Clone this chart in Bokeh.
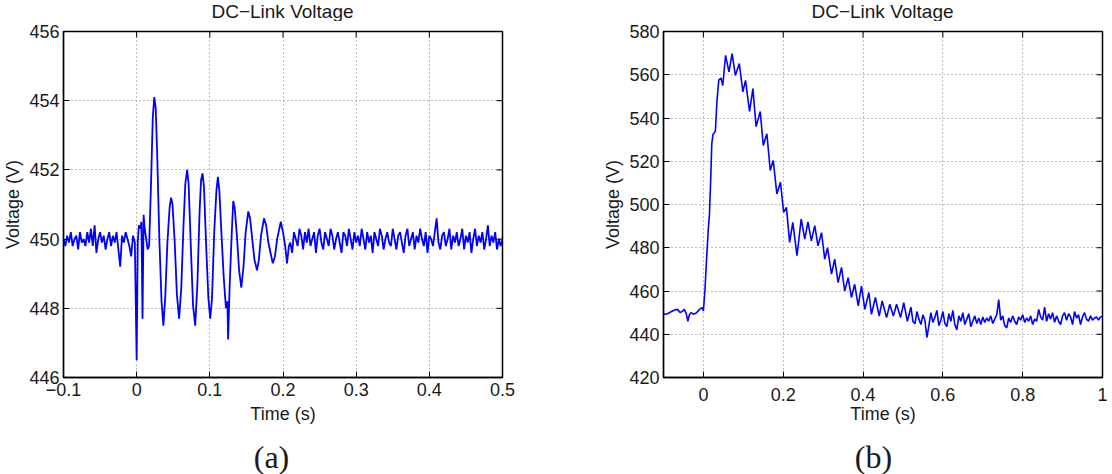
import numpy as np
from bokeh.plotting import figure
from bokeh.models import Range1d, FixedTicker, Label
from bokeh.layouts import row, column
from bokeh.embed import file_html
from bokeh.resources import INLINE

TITLE = "DC\u2212Link Voltage"
XLABEL = "Time (s)"
YLABEL = "Voltage (V)"
CAPTIONS = ["(a)", "(b)"]

# ---------------- panel (a) ----------------
a_xrange = (-0.1, 0.5)
a_yrange = (446, 456)
a_xticks = [-0.1, 0, 0.1, 0.2, 0.3, 0.4, 0.5]
a_xtick_labels = ["\u22120.1", "0", "0.1", "0.2", "0.3", "0.4", "0.5"]
a_yticks = [446, 448, 450, 452, 454, 456]
a_ytick_labels = ["446", "448", "450", "452", "454", "456"]

# before the event: samples every 2.5 ms from -0.1 s
a_pre_start, a_pre_step = -0.1, 0.0025
a_pre_v = [450.0, 449.8, 450.1, 449.9, 450.2, 449.8, 450.0, 450.1, 449.7, 450.2,
           449.9, 450.0, 449.8, 450.2, 449.9, 450.3, 449.8, 450.4, 449.6, 450.0,
           450.2, 449.9, 450.1, 449.7, 450.0, 450.2, 449.8, 450.1, 449.9, 450.2,
           449.7, 449.2, 450.1, 449.9, 450.2, 450.0, 449.8, 449.5, 450.1, 449.9]

# transient
a_tr_t = [0.0, 0.0015, 0.003, 0.005, 0.0065, 0.008, 0.0095, 0.011, 0.013, 0.015,
          0.017, 0.0195, 0.022, 0.024, 0.026, 0.028, 0.031, 0.034, 0.0365, 0.039,
          0.042, 0.045, 0.047, 0.049, 0.052, 0.055, 0.058, 0.061, 0.064, 0.0665,
          0.069, 0.071, 0.074, 0.077, 0.080, 0.083, 0.086, 0.088, 0.090, 0.092,
          0.095, 0.098, 0.1005, 0.103, 0.106, 0.109, 0.111, 0.113, 0.116, 0.119,
          0.122, 0.124, 0.125, 0.127, 0.130, 0.132, 0.134, 0.137, 0.140, 0.143,
          0.146, 0.149, 0.1525, 0.155, 0.158, 0.161, 0.1645, 0.167, 0.170, 0.174,
          0.177, 0.180, 0.183, 0.186, 0.189, 0.192, 0.197, 0.200, 0.203, 0.2055,
          0.208]
a_tr_v = [446.5, 449.9, 450.4, 450.3, 450.5, 447.7, 450.7, 450.3, 450.0, 449.7,
          449.8, 451.5, 453.5, 454.1, 453.8, 452.5, 450.0, 448.2, 447.5, 448.3,
          449.9, 450.9, 451.2, 451.0, 449.9, 448.4, 447.7, 448.6, 450.4, 451.6,
          452.0, 451.6, 449.8, 448.1, 447.5, 448.7, 450.8, 451.7, 451.9, 451.5,
          449.8, 448.3, 447.7, 448.3, 450.2, 451.4, 451.8, 451.4, 450.1, 448.9,
          448.0, 448.2, 447.1, 448.6, 450.2, 451.1, 450.9, 450.1, 449.1, 448.6,
          449.2, 450.2, 450.8, 450.6, 450.0, 449.4, 449.1, 449.4, 450.1, 450.6,
          450.4, 449.9, 449.6, 449.3, 449.5, 450.0, 450.5, 450.2, 449.8, 449.3,
          449.8]

# after the event: samples every 2.5 ms from 0.21 s
a_post_start, a_post_step = 0.21, 0.0025
a_post_v = [449.9, 449.6, 450.2, 450.0, 449.8, 450.3, 450.1, 449.7, 450.2, 449.9,
            450.3, 449.8, 450.0, 450.2, 449.6, 450.1, 450.3, 449.9, 449.7, 450.2,
            450.0, 449.8, 450.3, 450.1, 449.7, 450.0, 450.2, 449.9, 449.6, 450.2,
            450.1, 449.8, 450.3, 450.0, 449.7, 450.2, 449.9, 450.1, 449.8, 450.3,
            450.0, 449.7, 450.2, 449.9, 450.1, 449.6, 450.2, 450.0, 449.8, 450.3,
            450.1, 449.7, 450.0, 450.2, 449.9, 449.8, 450.3, 450.0, 449.7, 450.1,
            450.2, 449.9, 449.6, 450.1, 450.3, 449.8, 450.0, 450.2, 449.7, 450.1,
            449.9, 450.3, 450.0, 449.8, 450.2, 449.6, 450.1, 450.0, 449.8, 450.2,
            450.6, 449.9, 449.7, 450.1, 450.2, 449.8, 450.0, 450.3, 449.7, 450.1,
            449.9, 450.2, 449.8, 450.0, 450.3, 449.7, 450.1, 449.9, 450.2, 449.6,
            450.0, 450.3, 449.8, 450.1, 449.9, 450.2, 449.7, 450.0, 450.4, 449.8,
            450.1, 449.9, 450.2, 449.7, 450.0, 449.8, 450.0]

# ---------------- panel (b) ----------------
b_xrange = (-0.1, 1.0)
b_yrange = (420, 580)
b_xticks = [0, 0.2, 0.4, 0.6, 0.8, 1]
b_xtick_labels = ["0", "0.2", "0.4", "0.6", "0.8", "1"]
b_yticks = [420, 440, 460, 480, 500, 520, 540, 560, 580]
b_ytick_labels = ["420", "440", "460", "480", "500", "520", "540", "560", "580"]

b_pre_t = [-0.1, -0.09, -0.08, -0.072, -0.065, -0.058, -0.053, -0.048, -0.043, -0.039,
           -0.035, -0.031, -0.025, -0.018, -0.013, -0.008, -0.003, 0.0]
b_pre_v = [449.2, 449.5, 450.5, 451.2, 451.5, 450.0, 450.6, 451.5, 449.5, 446.0,
           449.0, 450.0, 449.3, 449.8, 450.8, 451.8, 452.3, 450.8]

b_rise_t = [0.004, 0.008, 0.012, 0.015, 0.018, 0.021, 0.024, 0.027, 0.030, 0.034,
            0.0385, 0.044, 0.0485]
b_rise_v = [460.8, 475.0, 488.0, 495.0, 510.0, 528.0, 532.5, 533.0, 534.0, 548.0,
            557.5, 558.5, 555.0]

b_osc_t = [0.0555, 0.064, 0.072, 0.080, 0.090, 0.0988, 0.1055, 0.1156, 0.124, 0.132,
           0.1424, 0.150, 0.159, 0.1675, 0.175, 0.184, 0.193, 0.201, 0.208, 0.216,
           0.224, 0.2345, 0.245, 0.254, 0.262, 0.2705, 0.279, 0.287, 0.296, 0.304,
           0.311, 0.321, 0.329, 0.3375, 0.346, 0.354, 0.3626, 0.371, 0.379, 0.388,
           0.396, 0.4045, 0.4146, 0.421, 0.431, 0.4405, 0.448, 0.459, 0.467, 0.476,
           0.484, 0.494, 0.502, 0.511]
b_osc_v = [569.0, 561.3, 569.8, 559.7, 565.2, 552.1, 557.4, 543.0, 553.6, 536.0,
           543.0, 527.3, 532.7, 515.7, 520.3, 504.9, 510.3, 496.4, 498.7, 482.5,
           491.7, 476.3, 493.3, 484.0, 492.0, 483.2, 490.2, 480.9, 487.0, 474.7,
           480.0, 467.8, 474.7, 463.9, 470.9, 460.0, 466.2, 457.0, 463.1, 453.1,
           462.3, 451.5, 459.3, 449.2, 457.0, 448.4, 455.4, 447.7, 453.9, 448.4,
           453.9, 447.7, 454.6, 446.0]

# steady state: samples every 5 ms from 0.52 s
b_tail_start, b_tail_step = 0.52, 0.005
b_tail_v = [452.5, 446.0, 444.8, 450.5, 447.0, 444.5, 449.0, 446.5, 438.5, 444.0,
            450.0, 445.5, 447.8, 451.0, 444.0, 446.5, 450.5, 445.0, 443.5, 449.5,
            446.0, 451.0, 444.5, 442.0, 448.5, 446.0, 450.0, 444.5, 447.0, 449.5,
            443.5, 446.0, 448.5, 445.0, 447.5, 444.5, 448.0, 445.5, 447.5, 446.0,
            448.5, 445.0, 447.0, 449.0, 456.0, 446.5, 448.5, 444.0, 443.0, 447.5,
            445.5, 448.5, 446.0, 444.5, 448.0, 446.5, 449.0, 445.5, 447.5, 446.0,
            448.5, 444.5, 447.0, 446.0, 451.5, 448.0, 446.5, 452.5, 446.0, 449.5,
            447.0, 450.0, 445.5, 448.5, 446.0, 444.5, 448.5, 450.0, 446.5, 449.5,
            448.0, 444.5, 450.5, 447.5, 449.0, 444.5, 448.0, 450.0, 447.0, 446.0,
            448.5, 446.5, 447.5, 448.0, 446.5, 448.0, 448.2]


def sampled(start, step, values):
    return list(np.round(start + step * np.arange(len(values)), 6))


a_t = sampled(a_pre_start, a_pre_step, a_pre_v) + a_tr_t + sampled(a_post_start, a_post_step, a_post_v)
a_v = a_pre_v + a_tr_v + a_post_v
b_t = b_pre_t + b_rise_t + b_osc_t + sampled(b_tail_start, b_tail_step, b_tail_v)
b_v = b_pre_v + b_rise_v + b_osc_v + b_tail_v

FONT = "Liberation Sans"
TXT = "#1a1a1a"
TICK_LEN = 6
PANEL_W = 556
TITLE_H = 21
CAPTION_H = 40
MAIN_H = 474 - TITLE_H - CAPTION_H
MAIN_TOP = 31 - TITLE_H
FRAME_H = 346


def style_axis(ax, ticks, labels):
    ax.ticker = FixedTicker(ticks=ticks)
    ax.major_tick_in = TICK_LEN
    ax.major_tick_out = 0
    ax.minor_tick_line_color = None
    ax.major_tick_line_color = "black"
    ax.axis_line_color = "black"
    ax.axis_line_width = 1.3
    ax.major_label_overrides = dict(zip(ticks, labels))
    ax.major_label_text_font = FONT
    ax.major_label_text_font_size = "18px"
    ax.major_label_text_color = TXT
    ax.axis_label_text_font = FONT
    ax.axis_label_text_font_size = "18px"
    ax.axis_label_text_font_style = "normal"
    ax.axis_label_text_color = TXT


def text_strip(height, text, cx, cy, font, size):
    """A bare strip (no axes) whose data units are pixels, holding one centred text."""
    s = figure(width=PANEL_W, height=height, output_backend="svg", toolbar_location=None,
               x_range=Range1d(0, PANEL_W), y_range=Range1d(0, height),
               x_axis_location=None, y_axis_location=None, min_border=0)
    s.grid.visible = False
    s.outline_line_color = None
    s.background_fill_color = "white"
    s.border_fill_color = "white"
    s.add_layout(Label(x=cx, y=cy, text=text, text_align="center", text_baseline="middle",
                       text_font=font, text_font_size=size, text_color=TXT))
    return s


def make_panel(t, v, xr, yr, xticks, xlabels, yticks, ylabels,
               mb_left, mb_right, x_standoff, xlabel_standoff, lw):
    p = figure(width=PANEL_W, height=MAIN_H, output_backend="svg", toolbar_location=None,
               x_range=Range1d(*xr), y_range=Range1d(*yr),
               min_border_left=mb_left, min_border_right=mb_right,
               min_border_top=MAIN_TOP, min_border_bottom=MAIN_H - MAIN_TOP - FRAME_H)

    p.line(t, v, line_color="#0000ff", line_width=lw)

    style_axis(p.xaxis[0], xticks, xlabels)
    style_axis(p.yaxis[0], yticks, ylabels)
    p.xaxis[0].axis_label = XLABEL
    p.yaxis[0].axis_label = YLABEL
    p.xaxis[0].major_label_standoff = x_standoff
    p.xaxis[0].axis_label_standoff = xlabel_standoff
    p.yaxis[0].major_label_standoff = 4
    p.yaxis[0].axis_label_standoff = 3

    # inward ticks on the top and right edges of the box
    p.ray(x=xticks, y=[yr[1]] * len(xticks), length=TICK_LEN, length_units="screen",
          angle=-np.pi / 2, line_color="black", line_width=1)
    p.ray(x=[xr[1]] * len(yticks), y=yticks, length=TICK_LEN, length_units="screen",
          angle=np.pi, line_color="black", line_width=1)

    p.xgrid.grid_line_color = "#7a7a7a"
    p.ygrid.grid_line_color = "#7a7a7a"
    p.xgrid.grid_line_dash = "1 3"
    p.ygrid.grid_line_dash = "1 3"
    p.xgrid.grid_line_width = 1
    p.ygrid.grid_line_width = 1

    p.outline_line_color = "black"
    p.outline_line_width = 1.5
    p.background_fill_color = "white"
    p.border_fill_color = "white"
    return p


pa = make_panel(a_t, a_v, a_xrange, a_yrange, a_xticks, a_xtick_labels,
                a_yticks, a_ytick_labels, 62, 54, 5, 5, 1.8)
pb = make_panel(b_t, b_v, b_xrange, b_yrange, b_xticks, b_xtick_labels,
                b_yticks, b_ytick_labels, 107, 10, 10, 0, 1.6)

ta = text_strip(TITLE_H, TITLE, 282, 10, FONT, "19px")
tb = text_strip(TITLE_H, TITLE, 326, 10, FONT, "19px")
ca = text_strip(CAPTION_H, CAPTIONS[0], 271, 18, "Liberation Serif", "32px")
cb = text_strip(CAPTION_H, CAPTIONS[1], 317, 18, "Liberation Serif", "32px")

layout = column(row(ta, tb), row(pa, pb), row(ca, cb))
open("out.html", "w").write(file_html(layout, INLINE))
